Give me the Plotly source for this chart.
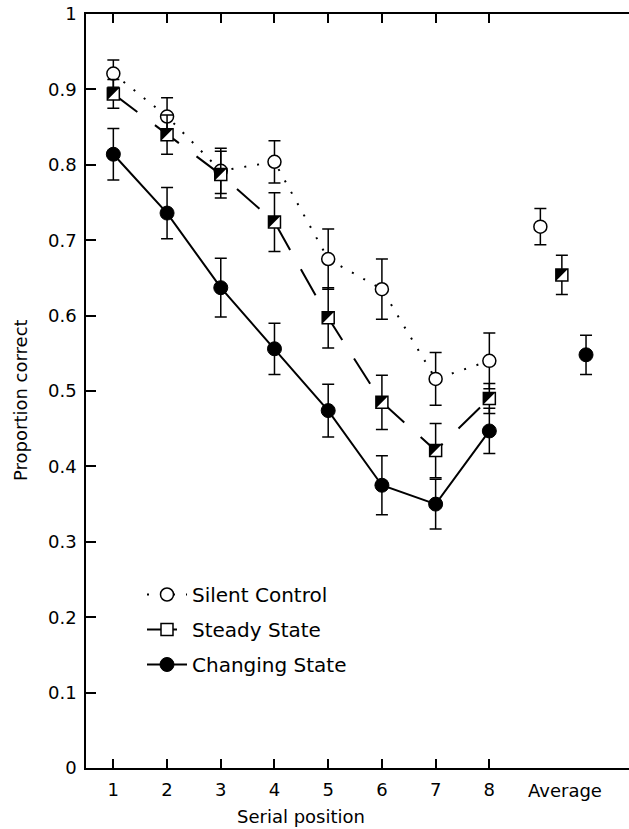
import plotly.graph_objects as go

positions = [1, 2, 3, 4, 5, 6, 7, 8]
tick_labels = ["1", "2", "3", "4", "5", "6", "7", "8"]
avg_label = "Average"
y_ticks = [0, 0.1, 0.2, 0.3, 0.4, 0.5, 0.6, 0.7, 0.8, 0.9, 1]
y_tick_labels = ["0", "0.1", "0.2", "0.3", "0.4", "0.5", "0.6", "0.7", "0.8", "0.9", "1"]

series_names = ["Silent Control", "Steady State", "Changing State"]

silent_vals = [0.921, 0.864, 0.792, 0.804, 0.675, 0.635, 0.516, 0.540]
silent_err = [0.018, 0.025, 0.030, 0.028, 0.040, 0.040, 0.035, 0.037]
silent_avg = 0.718
silent_avg_err = 0.024

steady_vals = [0.894, 0.840, 0.787, 0.724, 0.597, 0.485, 0.421, 0.490]
steady_err = [0.019, 0.026, 0.031, 0.039, 0.040, 0.036, 0.036, 0.020]
steady_avg = 0.654
steady_avg_err = 0.026

changing_vals = [0.814, 0.736, 0.637, 0.556, 0.474, 0.375, 0.350, 0.447]
changing_err = [0.034, 0.034, 0.039, 0.034, 0.035, 0.039, 0.033, 0.030]
changing_avg = 0.548
changing_avg_err = 0.026

FONT = "DejaVu Sans, Verdana, sans-serif"
AVG_POS = 9.4
AVG_OFFSETS = [-0.45, -0.05, 0.4]

W, H = 629, 829
ML, MR, MT, MB = 86, 0, 14, 61
XR = [0.491, 10.60]
YR = [0, 1]
PW = W - ML - MR
PH = H - MT - MB
px_per_x = PW / (XR[1] - XR[0])
px_per_y = PH / (YR[1] - YR[0])
SQ = 12
TRI = SQ * 1.111
shift_px = SQ / 2 - 0.6 * TRI / 2
dx = -shift_px / px_per_x
dy = shift_px / px_per_y


def err(arr):
    return dict(type="data", array=arr, color="black", thickness=1.5, width=6, visible=True)


fig = go.Figure()

# Silent control
fig.add_trace(go.Scatter(
    x=positions, y=silent_vals, mode="lines+markers", name=series_names[0],
    legendgroup="a",
    line=dict(color="black", width=2, dash="2px,11px"),
    marker=dict(symbol="circle", size=13, color="white", line=dict(color="black", width=1.5)),
    error_y=err(silent_err),
))
# Steady state
fig.add_trace(go.Scatter(
    x=positions, y=steady_vals, mode="lines+markers", name=series_names[1],
    legendgroup="b",
    line=dict(color="black", width=2, dash="30px,22px"),
    marker=dict(symbol="square", size=SQ, color="white", line=dict(color="black", width=1.5)),
    error_y=err(steady_err),
))
fig.add_trace(go.Scatter(
    x=[p + dx for p in positions], y=[v + dy for v in steady_vals], mode="markers",
    showlegend=False, hoverinfo="skip", legendgroup="b",
    marker=dict(symbol="triangle-nw", size=TRI, color="black", line=dict(width=0)),
))
# Changing state
fig.add_trace(go.Scatter(
    x=positions, y=changing_vals, mode="lines+markers", name=series_names[2],
    legendgroup="c",
    line=dict(color="black", width=2),
    marker=dict(symbol="circle", size=14, color="black", line=dict(color="black", width=1)),
    error_y=err(changing_err),
))

# Averages
fig.add_trace(go.Scatter(
    x=[AVG_POS + AVG_OFFSETS[0]], y=[silent_avg], mode="markers", showlegend=False,
    marker=dict(symbol="circle", size=13, color="white", line=dict(color="black", width=1.5)),
    error_y=err([silent_avg_err]),
))
fig.add_trace(go.Scatter(
    x=[AVG_POS + AVG_OFFSETS[1]], y=[steady_avg], mode="markers", showlegend=False,
    marker=dict(symbol="square", size=SQ, color="white", line=dict(color="black", width=1.5)),
    error_y=err([steady_avg_err]),
))
fig.add_trace(go.Scatter(
    x=[AVG_POS + AVG_OFFSETS[1] + dx], y=[steady_avg + dy], mode="markers", showlegend=False,
    hoverinfo="skip",
    marker=dict(symbol="triangle-nw", size=TRI, color="black", line=dict(width=0)),
))
fig.add_trace(go.Scatter(
    x=[AVG_POS + AVG_OFFSETS[2]], y=[changing_avg], mode="markers", showlegend=False,
    marker=dict(symbol="circle", size=14, color="black", line=dict(color="black", width=1)),
    error_y=err([changing_avg_err]),
))

fig.update_layout(
    width=W, height=H,
    margin=dict(l=ML, r=MR, t=MT, b=MB),
    paper_bgcolor="white", plot_bgcolor="white",
    font=dict(family=FONT, size=18, color="black"),
    showlegend=True,
    legend=dict(
        x=(142 - ML) / PW, y=(768 - 575) / PH,
        xanchor="left", yanchor="top",
        bgcolor="rgba(0,0,0,0)", font=dict(family=FONT, size=20, color="black"),
        tracegroupgap=6, itemwidth=40,
    ),
    xaxis=dict(
        range=XR, tickvals=positions, ticktext=tick_labels,
        ticks="inside", ticklen=9, tickwidth=1.5, tickcolor="black",
        showline=True, linecolor="black", linewidth=1.5, mirror="ticks",
        showgrid=False, zeroline=False, ticklabelstandoff=5,
        tickfont=dict(family=FONT, size=18, color="black"),
    ),
    yaxis=dict(
        range=YR, tickvals=y_ticks, ticktext=y_tick_labels,
        ticks="inside", ticklen=10, tickwidth=1.5, tickcolor="black",
        showline=True, linecolor="black", linewidth=1.5,
        showgrid=False, zeroline=False, ticklabelstandoff=4,
        tickfont=dict(family=FONT, size=18, color="black"),
    ),
    annotations=[
        dict(text=avg_label, x=AVG_POS, xref="x", y=(768 - 790) / PH, yref="paper",
             showarrow=False, xanchor="center", yanchor="middle",
             font=dict(family=FONT, size=18, color="black")),
        dict(text="Serial position", x=4.5, xref="x", y=(768 - 817) / PH, yref="paper",
             showarrow=False, xanchor="center", yanchor="middle",
             font=dict(family=FONT, size=18, color="black")),
        dict(text="Proportion correct", x=(20 - ML) / PW, xref="paper",
             y=(768 - 400) / PH, yref="paper", textangle=-90,
             showarrow=False, xanchor="center", yanchor="middle",
             font=dict(family=FONT, size=18, color="black")),
    ],
)

fig.write_html("out.html", config={"displayModeBar": False},
               post_script="document.body.style.margin='0px';")
